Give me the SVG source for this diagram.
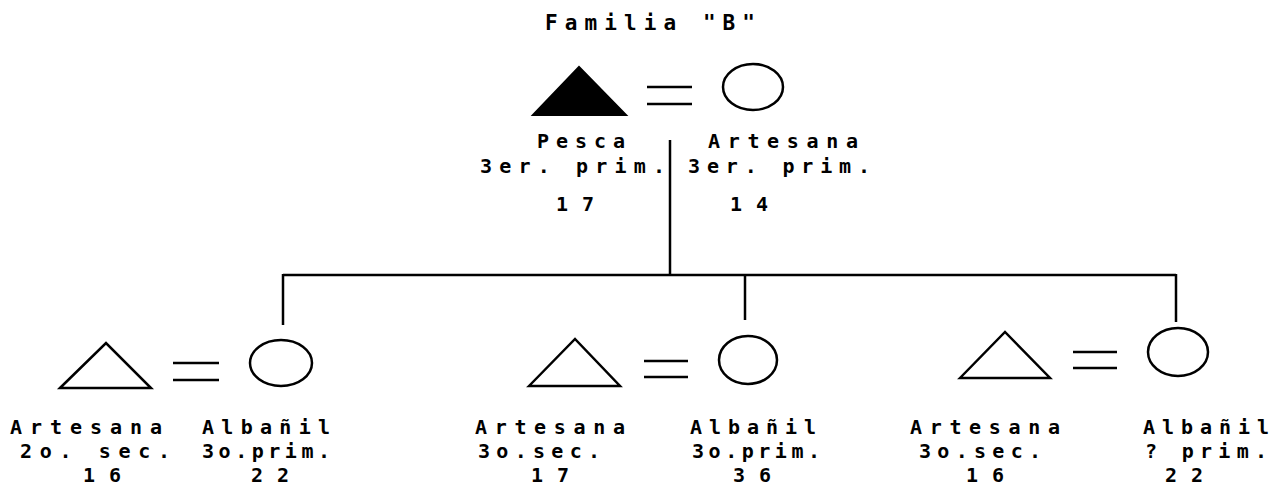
<svg xmlns="http://www.w3.org/2000/svg" width="1276" height="493" viewBox="0 0 1276 493">
<style>
  text { font-family: "DejaVu Sans Mono", "Liberation Mono", monospace; font-weight: bold; font-size: 20px; fill: #000; }
  .title { font-size: 21px; }
  .sh { fill: none; stroke: #000; stroke-width: 2.5; }
  .fill { fill: #000; stroke: #000; stroke-width: 2; }
  .ln { stroke: #000; stroke-width: 2.5; fill: none; }
</style>
<rect width="1276" height="493" fill="#fff"/>
<text class="title" x="545" y="30" textLength="210" lengthAdjust="spacing">Familia "B"</text>

<g id="connectors">
  <line class="ln" x1="647" y1="87" x2="692" y2="87"/>
  <line class="ln" x1="647" y1="104" x2="692" y2="104"/>
  <line class="ln" x1="670" y1="140" x2="670" y2="275"/>
  <line class="ln" x1="283" y1="275" x2="1176" y2="275"/>
  <line class="ln" x1="283" y1="274" x2="283" y2="325"/>
  <line class="ln" x1="745" y1="275" x2="745" y2="320"/>
  <line class="ln" x1="1176" y1="274" x2="1176" y2="322"/>
  <line class="ln" x1="173" y1="363" x2="219" y2="363"/>
  <line class="ln" x1="173" y1="380" x2="219" y2="380"/>
  <line class="ln" x1="644" y1="361" x2="688" y2="361"/>
  <line class="ln" x1="644" y1="377" x2="688" y2="377"/>
  <line class="ln" x1="1073" y1="352" x2="1117" y2="352"/>
  <line class="ln" x1="1073" y1="368" x2="1117" y2="368"/>
</g>

<g id="father">
  <polygon class="fill" points="533,115 579,67 626,115"/>
  <text x="537" y="148" textLength="88" lengthAdjust="spacing">Pesca</text>
  <text x="480" y="173" textLength="185" lengthAdjust="spacing">3er. prim.</text>
  <text x="556" y="211" textLength="38" lengthAdjust="spacing">17</text>
</g>

<g id="mother">
  <ellipse class="sh" cx="753" cy="87" rx="30" ry="23"/>
  <text x="708" y="148" textLength="150" lengthAdjust="spacing">Artesana</text>
  <text x="688" y="173" textLength="182" lengthAdjust="spacing">3er. prim.</text>
  <text x="730" y="211" textLength="38" lengthAdjust="spacing">14</text>
</g>

<g id="spouse1">
  <polygon class="sh" points="60,388 106,343 151,388"/>
  <text x="10" y="434" textLength="152" lengthAdjust="spacing">Artesana</text>
  <text x="20" y="458" textLength="150" lengthAdjust="spacing">2o. sec.</text>
  <text x="83" y="482" textLength="38" lengthAdjust="spacing">16</text>
</g>

<g id="child1">
  <ellipse class="sh" cx="281" cy="363" rx="31" ry="23"/>
  <text x="202" y="434" textLength="128" lengthAdjust="spacing">Albañil</text>
  <text x="202" y="458" textLength="128" lengthAdjust="spacing">3o.prim.</text>
  <text x="251" y="482" textLength="38" lengthAdjust="spacing">22</text>
</g>

<g id="spouse2">
  <polygon class="sh" points="529,386 575,339 620,386"/>
  <text x="475" y="434" textLength="150" lengthAdjust="spacing">Artesana</text>
  <text x="478" y="458" textLength="122" lengthAdjust="spacing">3o.sec.</text>
  <text x="531" y="482" textLength="38" lengthAdjust="spacing">17</text>
</g>

<g id="child2">
  <ellipse class="sh" cx="748" cy="360" rx="29" ry="24"/>
  <text x="690" y="434" textLength="126" lengthAdjust="spacing">Albañil</text>
  <text x="692" y="458" textLength="128" lengthAdjust="spacing">3o.prim.</text>
  <text x="733" y="482" textLength="38" lengthAdjust="spacing">36</text>
</g>

<g id="spouse3">
  <polygon class="sh" points="960,378 1005,332 1050,378"/>
  <text x="910" y="434" textLength="150" lengthAdjust="spacing">Artesana</text>
  <text x="919" y="458" textLength="122" lengthAdjust="spacing">3o.sec.</text>
  <text x="966" y="482" textLength="38" lengthAdjust="spacing">16</text>
</g>

<g id="child3">
  <ellipse class="sh" cx="1178" cy="352" rx="30" ry="24"/>
  <text x="1143" y="434" textLength="126" lengthAdjust="spacing">Albañil</text>
  <text x="1145" y="458" textLength="122" lengthAdjust="spacing">? prim.</text>
  <text x="1165" y="482" textLength="38" lengthAdjust="spacing">22</text>
</g>
</svg>
